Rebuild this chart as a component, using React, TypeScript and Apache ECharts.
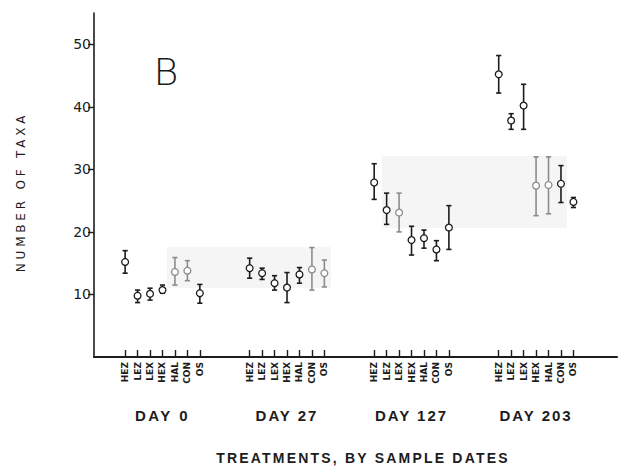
import React, { useEffect, useRef } from "react";
import * as echarts from "echarts";

const treatments = ["HEZ", "LEZ", "LEX", "HEX", "HAL", "CON", "OS"];
const days = ["DAY 0", "DAY 27", "DAY 127", "DAY 203"];

// mean number of taxa per treatment, by sample date
const meanDay0 = [15.2, 9.8, 10.1, 10.7, 13.6, 13.8, 10.2];
const meanDay27 = [14.2, 13.4, 11.8, 11.1, 13.2, 14.0, 13.4];
const meanDay127 = [27.9, 23.5, 23.1, 18.7, 19.0, 17.2, 20.7];
const meanDay203 = [45.2, 37.8, 40.2, 27.4, 27.5, 27.7, 24.8];

// upper end of the error bars
const highDay0 = [17.0, 10.7, 11.0, 11.5, 15.9, 15.4, 11.6];
const highDay27 = [15.8, 14.2, 13.0, 13.5, 14.3, 17.5, 15.5];
const highDay127 = [30.9, 26.2, 26.2, 20.9, 20.3, 18.6, 24.2];
const highDay203 = [48.2, 38.9, 43.6, 32.0, 32.0, 30.6, 25.5];

// lower end of the error bars
const lowDay0 = [13.4, 8.7, 9.1, 10.2, 11.5, 12.2, 8.6];
const lowDay27 = [12.6, 12.4, 10.7, 8.7, 11.8, 10.7, 11.2];
const lowDay127 = [25.2, 21.2, 20.0, 16.3, 17.4, 15.4, 17.2];
const lowDay203 = [42.2, 36.4, 36.4, 22.6, 22.9, 24.7, 23.9];

const yTicks = [10, 20, 30, 40, 50];

// points printed in a lighter grey in the reference
const fadedKeys = ["DAY 0|HAL", "DAY 0|CON", "DAY 27|CON", "DAY 27|OS", "DAY 127|LEX", "DAY 203|HEX", "DAY 203|HAL"];

const means = [meanDay0, meanDay27, meanDay127, meanDay203];
const highs = [highDay0, highDay27, highDay127, highDay203];
const lows = [lowDay0, lowDay27, lowDay127, lowDay203];

const LEAD = 2;
const GROUP_SLOTS = 10;
const TOTAL_SLOTS = 42;

const FONT = "'DejaVu Sans', 'Liberation Sans', sans-serif";
const HFONT = "'Liberation Sans', Arial, sans-serif";
const INK = "#1c1c1c";

function buildAxis() {
  const ids: string[] = [];
  const labels: string[] = [];
  for (let i = 0; i < TOTAL_SLOTS; i++) {
    ids.push("s" + i);
    labels.push("");
  }
  days.forEach((_, g) =>
    treatments.forEach((t, k) => {
      labels[LEAD + g * GROUP_SLOTS + k] = t;
    })
  );
  return { ids, labels };
}

const spacedTexts: Record<string, string> = {
  "NUMBER OF TAXA": "3.8px",
  "TREATMENTS, BY SAMPLE DATES": "2.2px",
  "DAY 0": "2.5px",
  "DAY 27": "2px",
  "DAY 127": "2px",
  "DAY 203": "2px",
};

export default function App() {
  const ref = useRef<HTMLDivElement>(null);

  useEffect(() => {
    if (!ref.current) return;
    const el = ref.current;
    const chart = echarts.init(el, null, { renderer: "svg" });
    const { ids, labels } = buildAxis();

    const data: number[][] = [];
    days.forEach((d, g) =>
      treatments.forEach((t, k) => {
        data.push([
          LEAD + g * GROUP_SLOTS + k,
          means[g][k],
          lows[g][k],
          highs[g][k],
          fadedKeys.includes(d + "|" + t) ? 1 : 0,
        ]);
      })
    );

    chart.setOption({
      animation: false,
      backgroundColor: "#ffffff",
      grid: { left: 94, top: 13, width: 523, height: 344 },
      xAxis: {
        type: "category",
        data: ids,
        boundaryGap: true,
        axisLine: { show: true, lineStyle: { color: INK, width: 2 } },
        axisTick: {
          show: true,
          inside: true,
          length: 7,
          alignWithLabel: true,
          interval: (i: number) => labels[i] !== "",
          lineStyle: { color: INK, width: 1.4 },
        },
        axisLabel: {
          interval: 0,
          rotate: 90,
          margin: 5,
          fontSize: 9,
          fontWeight: "bold",
          fontFamily: FONT,
          color: INK,
          formatter: (_v: string, i: number) => labels[i],
        },
        splitLine: { show: false },
      },
      yAxis: {
        type: "value",
        min: 0,
        max: 55,
        axisLine: { show: true, lineStyle: { color: INK, width: 1.6 } },
        axisTick: { show: true, customValues: yTicks, length: 6, lineStyle: { color: INK, width: 1.4 } },
        axisLabel: { customValues: yTicks, fontSize: 14, fontFamily: FONT, color: INK, margin: 3 },
        splitLine: { show: false },
      },
      series: [
        {
          type: "custom",
          encode: { x: 0, y: 1 },
          data,
          z: 5,
          renderItem: (_params: any, api: any) => {
            const x = api.value(0);
            const pm = api.coord([x, api.value(1)]);
            const pl = api.coord([x, api.value(2)]);
            const ph = api.coord([x, api.value(3)]);
            const color = api.value(4) === 1 ? "#8c8c8c" : INK;
            const r = 3.4;
            const cap = 2.6;
            const cx = pm[0];
            const ls = { stroke: color, lineWidth: 1.6 };
            const children: any[] = [];
            if (ph[1] < pm[1] - r)
              children.push({ type: "line", shape: { x1: cx, y1: ph[1], x2: cx, y2: pm[1] - r }, style: ls });
            if (pl[1] > pm[1] + r)
              children.push({ type: "line", shape: { x1: cx, y1: pm[1] + r, x2: cx, y2: pl[1] }, style: ls });
            children.push({ type: "line", shape: { x1: cx - cap, y1: ph[1], x2: cx + cap, y2: ph[1] }, style: ls });
            children.push({ type: "line", shape: { x1: cx - cap, y1: pl[1], x2: cx + cap, y2: pl[1] }, style: ls });
            children.push({
              type: "circle",
              shape: { cx, cy: pm[1], r },
              style: { fill: "#ffffff", stroke: color, lineWidth: 1.3 },
            });
            return { type: "group", children };
          },
        },
      ],
    });

    const groupCenter = (g: number) =>
      chart.convertToPixel({ xAxisIndex: 0 }, ids[LEAD + g * GROUP_SLOTS + 3]) as number;

    const text = (t: string, x: number, y: number, font: string, extra: any = {}) => ({
      type: "text",
      x,
      y,
      z: 10,
      ...extra,
      style: {
        text: t,
        font,
        fill: INK,
        align: "center",
        verticalAlign: "middle",
        textAlign: "center",
        textVerticalAlign: "middle",
      },
    });

    chart.setOption({
      graphic: [
        { type: "rect", z: -10, shape: { x: 167, y: 247, width: 164, height: 41 }, style: { fill: "#f5f5f5" } },
        { type: "rect", z: -10, shape: { x: 382, y: 156, width: 185, height: 72 }, style: { fill: "#f5f5f5" } },
        text("B", 166, 72, `200 38px ${FONT}`),
        text("NUMBER OF TAXA", 21, 192, `12px ${FONT}`, { rotation: Math.PI / 2 }),
        ...days.map((d, g) => text(d, groupCenter(g), 415, `bold 15px ${HFONT}`)),
        text("TREATMENTS, BY SAMPLE DATES", 363, 458, `bold 14px ${HFONT}`),
      ],
    });

    const applySpacing = () => {
      el.querySelectorAll("text").forEach((n) => {
        const s = spacedTexts[(n.textContent || "").trim()];
        if (s) (n as SVGTextElement).style.letterSpacing = s;
      });
    };
    chart.on("finished", applySpacing);
    applySpacing();
    const raf = requestAnimationFrame(applySpacing);
    const tm = setTimeout(applySpacing, 50);

    return () => {
      cancelAnimationFrame(raf);
      clearTimeout(tm);
      chart.dispose();
    };
  }, []);

  return <div ref={ref} style={{ width: 620, height: 467, position: "absolute", left: 0, top: 0 }} />;
}
